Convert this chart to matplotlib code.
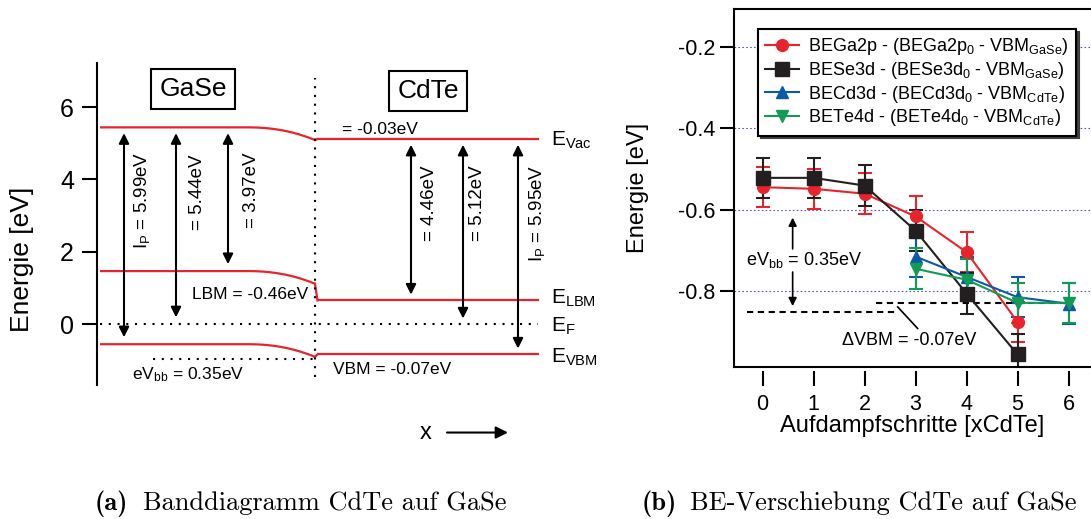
import numpy as np
import matplotlib
matplotlib.use("Agg")
import matplotlib.pyplot as plt

plt.rcParams.update({
    "font.family": ["Liberation Sans", "DejaVu Sans"],
    "mathtext.fontset": "custom",
    "mathtext.rm": "Liberation Sans",
    "mathtext.it": "Liberation Sans:italic",
    "mathtext.bf": "Liberation Sans:bold",
    "axes.unicode_minus": False,
})

# --- band diagram (a) ---
gase_levels = [5.44, 1.47, -0.55]     # E_vac, E_LBM, E_VBM of GaSe
cdte_levels = [5.12, 0.66, -0.83]     # E_vac, E_LBM, E_VBM of CdTe
band_bending = 0.35
gase_gap_labels = [r"I$_\mathrm{P}$ = 5.99eV", "= 5.44eV", "= 3.97eV"]
cdte_gap_labels = ["= 4.46eV", "= 5.12eV", r"I$_\mathrm{P}$ = 5.95eV"]
level_names = [r"E$_\mathrm{Vac}$", r"E$_\mathrm{LBM}$", r"E$_\mathrm{F}$", r"E$_\mathrm{VBM}$"]

# --- BE shift (b) ---
steps = [0, 1, 2, 3, 4, 5, 6]
ga2p = [-0.545, -0.549, -0.561, -0.617, -0.705, -0.877]
se3d = [-0.522, -0.522, -0.541, -0.652, -0.807, -0.957]
cd3d = [-0.716, -0.766, -0.816, -0.832]
te4d = [-0.746, -0.773, -0.830, -0.830]
err = 0.05
legend_labels = [
    r"BEGa2p - (BEGa2p$_0$ - VBM$_\mathrm{GaSe}$)",
    r"BESe3d - (BESe3d$_0$ - VBM$_\mathrm{GaSe}$)",
    r"BECd3d - (BECd3d$_0$ - VBM$_\mathrm{CdTe}$)",
    r"BETe4d - (BETe4d$_0$ - VBM$_\mathrm{CdTe}$)",
]
vbm_gase_end = -0.852
vbm_cdte_end = -0.83

RED = "#e8232b"
BLACK = "#231f20"
BLUE = "#0a5aa8"
GREEN = "#139a55"

W, H = 1091, 519
fig = plt.figure(figsize=(W / 100, H / 100), dpi=100)

# ================= (a) =================
px = 36.2  # pixels per eV
y0 = 324.3
ax1 = fig.add_axes([97 / W, 0, 523 / W, 1])
ax1.set_xlim(0, 523)
ax1.set_ylim(-(H - y0) / px, y0 / px)
for s in ["top", "right", "bottom"]:
    ax1.spines[s].set_visible(False)
ax1.spines["left"].set_bounds(-1.68, 7.22)
ax1.spines["left"].set_linewidth(1.5)
ax1.set_xticks([])
ax1.set_yticks([0, 2, 4, 6])
ax1.tick_params(axis="y", length=11, width=1.5, labelsize=18, pad=5.5)
ax1.set_ylabel("Energie [eV]", fontsize=19, labelpad=19)

x_start, x_bend, x_int, x_end = 3, 150, 218, 441
xs = np.linspace(x_bend, x_int, 60)
for e_g, e_c in zip(gase_levels, cdte_levels):
    curve = e_g - band_bending * ((xs - x_bend) / (x_int - x_bend)) ** 2.2
    ax1.plot(np.r_[x_start, xs], np.r_[e_g, curve], color=RED, lw=1.6, solid_capstyle="butt")
    ax1.plot([x_int, x_int + 2.5], [e_g - band_bending, e_c], color=RED, lw=1.6)
    ax1.plot([x_int + 2.5, x_end], [e_c, e_c], color=RED, lw=1.6)

ax1.plot([x_start, x_end], [0, 0], color="black", ls=(0, (1, 3.2)), lw=1.5)
ax1.plot([x_int, x_int], [-1.46, 6.8], color="black", ls=(0, (1, 3.2)), lw=1.5)
ax1.plot([56, x_int], [gase_levels[2] - band_bending - 0.05] * 2, color="black", ls=(0, (1, 3.2)), lw=1.5)

gap = 0.16
arrow_kw = dict(arrowstyle="<|-|>", color="black", lw=1.5, mutation_scale=15, shrinkA=0, shrinkB=0)
gase_bottoms = [gase_levels[2], 0, gase_levels[1]]
for x, xl, yl, bot, lab in zip([27, 79, 131], [45, 100, 155], [3.43, 3.66, 3.7], gase_bottoms, gase_gap_labels):
    ax1.annotate("", xy=(x, gase_levels[0] - gap), xytext=(x, bot + gap * 1.2), arrowprops=arrow_kw)
    ax1.text(xl, yl, lab, rotation=90, ha="center", va="center", fontsize=13.5)
cdte_bottoms = [cdte_levels[1], 0, cdte_levels[2]]
for x, xl, yl, bot, lab in zip([314, 366, 421], [333, 381, 440], [3.35, 3.35, 3.07], cdte_bottoms, cdte_gap_labels):
    ax1.annotate("", xy=(x, cdte_levels[0] - gap), xytext=(x, bot + gap), arrowprops=arrow_kw)
    ax1.text(xl, yl, lab, rotation=90, ha="center", va="center", fontsize=13.5)

box = dict(boxstyle="square,pad=0.3", fc="white", ec="black", lw=1.5)
ax1.text(96, 6.49, "GaSe", fontsize=19, ha="center", va="center", bbox=box)
ax1.text(331, 6.45, "CdTe", fontsize=19, ha="center", va="center", bbox=box)

ax1.text(245, 5.39, "= -0.03eV", fontsize=12.5, va="center")
ax1.text(95, 0.81, "LBM = -0.46eV", fontsize=12.5, va="center")
ax1.text(35, -1.40, r"eV$_\mathrm{bb}$ = 0.35eV", fontsize=12.5, va="center")
ax1.text(236, -1.26, "VBM = -0.07eV", fontsize=12.5, va="center")

for name, y in zip(level_names, [5.09, 0.73, -0.07, -0.9]):
    ax1.text(454, y, name, fontsize=15, va="center")

ax1.text(329, -2.99, "x", fontsize=17, ha="center", va="center")
ax1.annotate("", xy=(411, -2.99), xytext=(350, -2.99),
             arrowprops=dict(arrowstyle="-|>", color="black", lw=1.5, mutation_scale=18, shrinkA=0, shrinkB=0))

# ================= (b) =================
ax2 = fig.add_axes([734 / W, (H - 367) / H, (W - 734) / W, (367 - 9) / H])
ax2.set_xlim(-0.56, 6.44)
ax2.set_ylim(-0.988, -0.106)
ax2.spines["right"].set_visible(False)
for s in ["top", "left", "bottom"]:
    ax2.spines[s].set_linewidth(1.5)
ax2.set_yticks([-0.8, -0.6, -0.4, -0.2])
ax2.tick_params(axis="y", length=10, width=1.5, labelsize=15.5)
ax2.tick_params(axis="x", bottom=False, labelbottom=False)
for yv in [-0.8, -0.6, -0.4, -0.2]:
    ax2.axhline(yv, color="#5555cc", lw=0.8, ls=(0, (1.5, 2)), zorder=0)

# x ticks sit slightly below the bottom spine
sec = ax2.secondary_xaxis(-3.5 / 358)
sec.spines["bottom"].set_visible(False)
sec.set_xticks(steps)
sec.tick_params(axis="x", length=11, width=1.5, labelsize=15.5, pad=6)
sec.set_xlabel("Aufdampfschritte [xCdTe]", fontsize=17, labelpad=0)

series = [(ga2p, steps[:6], RED, "o", 8.5), (se3d, steps[:6], BLACK, "s", 9.5),
          (cd3d, steps[3:], BLUE, "^", 9), (te4d, steps[3:], GREEN, "v", 9)]
handles = []
for vals, xv, col, mk, ms in series:
    cont = ax2.errorbar(xv, vals, yerr=err, color=col, marker=mk, ms=ms, lw=1.5,
                        elinewidth=1.5, capsize=5, capthick=1.5)
    handles.append(cont[0])

ax2.plot([-0.31, 2.59], [vbm_gase_end] * 2, color="black", lw=1.5, dashes=(3, 2.2))
ax2.plot([2.23, 6.09], [vbm_cdte_end] * 2, color="black", lw=1.5, dashes=(3, 2.2))
ax2.text(-0.33, -0.724, r"eV$_\mathrm{bb}$ = 0.35eV", fontsize=13, va="center")
sarrow = dict(arrowstyle="-|>", color="black", lw=1.2, mutation_scale=12, shrinkA=0, shrinkB=0)
ax2.annotate("", xy=(0.59, -0.62), xytext=(0.59, -0.697), arrowprops=sarrow)
ax2.annotate("", xy=(0.59, -0.838), xytext=(0.59, -0.754), arrowprops=sarrow)
ax2.plot([2.65, 3.04], [-0.84, -0.893], color="black", lw=1.2)
ax2.text(1.55, -0.922, "ΔVBM = -0.07eV", fontsize=13, va="center")

ax2.set_ylabel("Energie [eV]", fontsize=17, labelpad=21)

leg = ax2.legend(handles, legend_labels, loc="upper left", bbox_to_anchor=(0.067, 0.944),
                 borderaxespad=0, fontsize=13, handlelength=1.9, labelspacing=0.15,
                 handletextpad=0.5, fancybox=False,
                 shadow={"color": "0.25", "alpha": 1}, framealpha=1)
leg.get_frame().set_edgecolor("black")
leg.get_frame().set_linewidth(1.5)

# captions
cy = 1 - 510 / H
fig.text(95 / W, cy, "(a)", fontfamily="cmb10", fontsize=19, va="baseline")
fig.text(143 / W, cy, "Banddiagramm CdTe auf GaSe", fontfamily="cmr10", fontsize=19, va="baseline")
fig.text(642 / W, cy, "(b)", fontfamily="cmb10", fontsize=19, va="baseline")
fig.text(690 / W, cy, "BE-Verschiebung CdTe auf GaSe", fontfamily="cmr10", fontsize=19, va="baseline")

fig.savefig("out.png", dpi=100)
